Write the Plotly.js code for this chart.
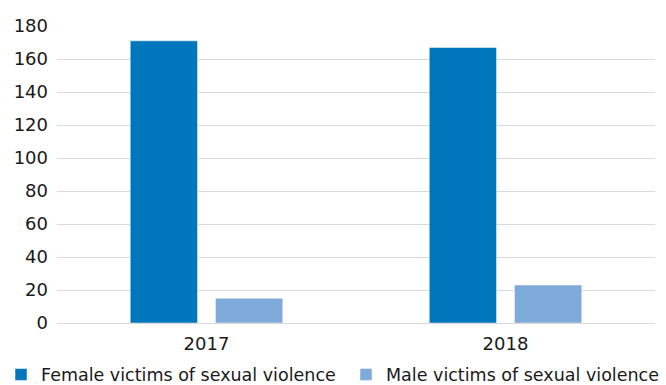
<!DOCTYPE html>
<html>
<head>
<meta charset="utf-8">
<script src="https://cdn.plot.ly/plotly-3.0.1.min.js"></script>
<style>html,body{margin:0;padding:0;background:#fff;}#chart{width:666px;height:385px;}</style>
</head>
<body>
<div id="chart"></div>
<script>
const years = ["2017", "2018"];
const femaleVictims = [171, 167];
const maleVictims = [15, 23];
const seriesNames = ["Female victims of sexual violence", "Male victims of sexual violence"];
const yTicks = [0, 20, 40, 60, 80, 100, 120, 140, 160, 180];

const FONT = "DejaVu Sans, sans-serif";

const traces = [
  {type: "bar", x: years, y: femaleVictims, name: seriesNames[0], legend: "legend",
   marker: {color: "#0076BC", line: {color: "rgba(255,255,255,0.5)", width: 1}}},
  {type: "bar", x: years, y: maleVictims, name: seriesNames[1], legend: "legend2",
   marker: {color: "#7EAAD9", line: {color: "rgba(255,255,255,0.5)", width: 1}}}
];

const legendBase = {orientation: "h", xanchor: "left", y: -0.113, yanchor: "top",
  font: {family: FONT, size: 17.5, color: "#1a1a1a"}, itemwidth: 30,
  bgcolor: "rgba(0,0,0,0)"};

const layout = {
  width: 666, height: 385,
  margin: {l: 57, r: 11, t: 26, b: 62, autoexpand: false},
  paper_bgcolor: "#fff", plot_bgcolor: "#fff",
  font: {family: FONT, size: 18, color: "#1a1a1a"},
  barmode: "group",
  bargap: 0.43,
  bargroupgap: 0.21,
  showlegend: true,
  legend: Object.assign({}, legendBase, {x: -0.0936}),
  legend2: Object.assign({}, legendBase, {x: 0.4833}),
  xaxis: {type: "category", range: [-0.5, 1.5], showline: false, ticks: "",
          showgrid: false, zeroline: false, ticklabelstandoff: 8,
          tickfont: {family: FONT, size: 18}},
  yaxis: {range: [0, 180], tickvals: yTicks, ticktext: yTicks.map(String),
          showgrid: true, gridcolor: "#d9d9d9", gridwidth: 1,
          zeroline: true, zerolinecolor: "#d9d9d9", zerolinewidth: 1,
          showline: false, ticks: "", ticklabelstandoff: 8,
          tickfont: {family: FONT, size: 18}}
};

Plotly.newPlot("chart", traces, layout, {displayModeBar: false, staticPlot: true});
</script>
</body>
</html>
